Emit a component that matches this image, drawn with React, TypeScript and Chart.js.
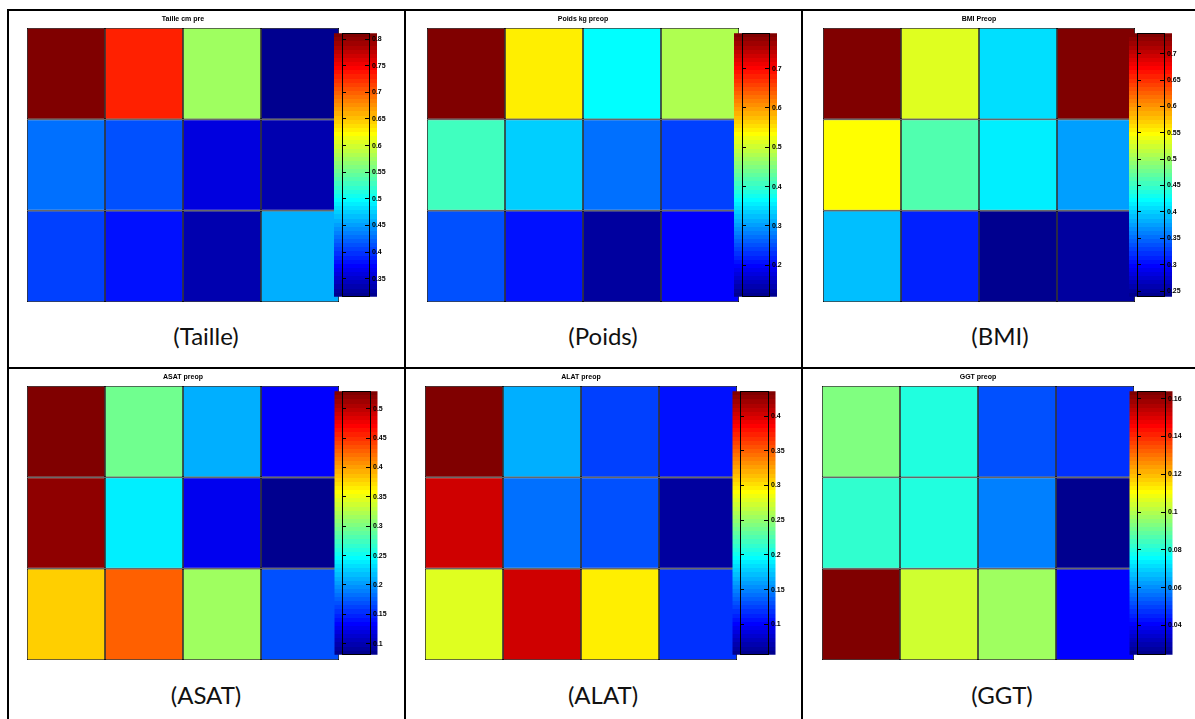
import React, { useEffect, useRef } from 'react';
import { Chart, registerables } from 'chart.js';

Chart.register(...registerables);

// ---------- data ----------
const columnLabels = ['C1', 'C2', 'C3', 'C4'];

const tailleValues = [
  [0.811, 0.732, 0.578, 0.322],
  [0.43, 0.415, 0.356, 0.336],
  [0.407, 0.385, 0.336, 0.46],
];
const tailleRange = [0.316, 0.811];
const tailleTicks = [0.35, 0.4, 0.45, 0.5, 0.55, 0.6, 0.65, 0.7, 0.75, 0.8];

const poidsValues = [
  [0.79, 0.544, 0.371, 0.486],
  [0.405, 0.334, 0.274, 0.244],
  [0.254, 0.207, 0.133, 0.2],
];
const poidsRange = [0.12, 0.79];
const poidsTicks = [0.2, 0.3, 0.4, 0.5, 0.6, 0.7];

const bmiValues = [
  [0.739, 0.529, 0.409, 0.739],
  [0.544, 0.464, 0.414, 0.379],
  [0.389, 0.316, 0.241, 0.254],
];
const bmiRange = [0.239, 0.739];
const bmiTicks = [0.25, 0.3, 0.35, 0.4, 0.45, 0.5, 0.55, 0.6, 0.65, 0.7];

const asatValues = [
  [0.53, 0.292, 0.211, 0.135],
  [0.516, 0.238, 0.126, 0.088],
  [0.382, 0.43, 0.315, 0.166],
];
const asatRange = [0.081, 0.53];
const asatTicks = [0.1, 0.15, 0.2, 0.25, 0.3, 0.35, 0.4, 0.45, 0.5];

const alatValues = [
  [0.436, 0.168, 0.126, 0.105],
  [0.406, 0.14, 0.128, 0.064],
  [0.28, 0.402, 0.297, 0.117],
];
const alatRange = [0.056, 0.436];
const alatTicks = [0.1, 0.15, 0.2, 0.25, 0.3, 0.35, 0.4];

const ggtValues = [
  [0.094, 0.081, 0.051, 0.048],
  [0.082, 0.081, 0.058, 0.026],
  [0.164, 0.105, 0.097, 0.041],
];
const ggtRange = [0.0244, 0.164];
const ggtTicks = [0.04, 0.06, 0.08, 0.1, 0.12, 0.14, 0.16];

const panelTitles = ['Taille cm pre', 'Poids kg preop', 'BMI Preop', 'ASAT preop', 'ALAT preop', 'GGT preop'];
const panelCaptions = ['(Taille)', '(Poids)', '(BMI)', '(ASAT)', '(ALAT)', '(GGT)'];

// ---------- layout (page pixels) ----------
const HEAT_W = 312;
const HEAT_H = 274;
const TITLE_H = 15;
const CB_BAR_W = 43;
const CB_AXIS_W = 30;
const CB_PAD_L = 12;

const layouts = [
  { heatLeft: 27, top: 28, boxLeft: 342, boxW: 27, capX: 206, capY: 336 },
  { heatLeft: 427, top: 28, boxLeft: 742, boxW: 27, capX: 603, capY: 336 },
  { heatLeft: 823, top: 28, boxLeft: 1137, boxW: 27, capX: 1000, capY: 336 },
  { heatLeft: 27, top: 386, boxLeft: 342, boxW: 28, capX: 206, capY: 695 },
  { heatLeft: 425, top: 386, boxLeft: 740, boxW: 28, capX: 603, capY: 695 },
  { heatLeft: 822, top: 386, boxLeft: 1137, boxW: 28, capX: 1002, capY: 695 },
];

// ---------- MATLAB jet(64) colormap ----------
function jetComponent(k: number) {
  if (k < 1 || k > 47) return 0;
  if (k <= 16) return k / 16;
  if (k <= 31) return 1;
  return (48 - k) / 16;
}
function jetIndexColor(i: number) {
  const r = i >= 25 ? jetComponent(i - 24) : 0;
  const g = i >= 9 && i <= 55 ? jetComponent(i - 8) : 0;
  const b = i <= 39 ? jetComponent(i + 8) : 0;
  return `rgb(${Math.round(r * 255)},${Math.round(g * 255)},${Math.round(b * 255)})`;
}
const JET = Array.from({ length: 64 }, (_, i) => jetIndexColor(i + 1));
function colorFor(v: number, min: number, max: number) {
  let idx = Math.floor(((v - min) / (max - min)) * 64);
  if (idx < 0) idx = 0;
  if (idx > 63) idx = 63;
  return JET[idx];
}

const LABEL_FONT = { family: '"Liberation Sans", Arial, sans-serif', size: 7, weight: 'bold' as const };

type PanelProps = {
  title: string;
  caption: string;
  values: number[][];
  range: number[];
  ticks: number[];
  lay: (typeof layouts)[number];
};

function HeatPanel({ title, caption, values, range, ticks, lay }: PanelProps) {
  const heatRef = useRef<HTMLCanvasElement>(null);
  const barRef = useRef<HTMLCanvasElement>(null);

  useEffect(() => {
    const [min, max] = range;
    const rowsBottomUp = values.slice().reverse();
    const heat = new Chart(heatRef.current!, {
      type: 'bar',
      data: {
        labels: columnLabels,
        datasets: rowsBottomUp.map((row, k) => ({
          label: 'row ' + (values.length - k),
          data: row.map(() => 1),
          backgroundColor: row.map((v) => colorFor(v, min, max)),
          borderColor: '#000',
          borderWidth: 0.8,
          borderSkipped: false,
          inflateAmount: 0,
          categoryPercentage: 1,
          barPercentage: 1,
        })),
      },
      options: {
        animation: false,
        responsive: false,
        layout: { padding: { left: 1, right: 1, top: 0, bottom: 1 } },
        plugins: {
          legend: { display: false },
          tooltip: { enabled: false },
          title: {
            display: true,
            text: title,
            color: '#000',
            font: { ...LABEL_FONT, lineHeight: 10 / 7 },
            padding: { top: 1, bottom: 4 },
          },
        },
        scales: {
          x: { stacked: true, display: false },
          y: { stacked: true, display: false, min: 0, max: values.length },
        },
      },
    });

    const setTicks = (scale: any) => {
      scale.ticks = ticks.map((v) => ({ value: v }));
    };
    const bar = new Chart(barRef.current!, {
      type: 'bar',
      data: {
        labels: ['cb'],
        datasets: [
          {
            label: 'colorbar',
            data: [[min, max]] as any,
            barThickness: CB_BAR_W,
            clip: false as any,
            borderWidth: 0,
            inflateAmount: 0,
            backgroundColor: (ctx: any) => {
              const chart = ctx.chart;
              const ys = chart.scales.y;
              if (!chart.chartArea || !ys) return JET[32];
              const yb = ys.getPixelForValue(min);
              const yt = ys.getPixelForValue(max);
              const g = chart.ctx.createLinearGradient(0, yb, 0, yt);
              for (let i = 0; i < 64; i++) {
                g.addColorStop(i / 64, JET[i]);
                g.addColorStop((i + 1) / 64, JET[i]);
              }
              return g;
            },
          },
        ],
      },
      options: {
        animation: false,
        responsive: false,
        layout: { padding: { left: CB_PAD_L, right: 0, top: 6, bottom: 6 } },
        plugins: { legend: { display: false }, tooltip: { enabled: false }, title: { display: false } },
        scales: {
          x: {
            type: 'category',
            position: 'bottom',
            ticks: { display: false, z: 2 },
            grid: { display: false, drawTicks: false, z: 2 },
            border: { display: true, color: '#000', width: 1, z: 2 },
          },
          xTop: {
            type: 'category',
            position: 'top',
            ticks: { display: false, z: 2 },
            grid: { display: false, drawTicks: false, z: 2 },
            border: { display: true, color: '#000', width: 1, z: 2 },
          },
          y: {
            type: 'linear',
            position: 'right',
            min,
            max,
            afterBuildTicks: setTicks,
            afterFit: (s: any) => {
              s.width = CB_AXIS_W;
            },
            ticks: {
              autoSkip: false,
              padding: 7,
              color: '#000',
              font: LABEL_FONT,
              crossAlign: 'near',
              z: 2,
              callback: (v: any) => String(+Number(v).toFixed(4)),
            },
            grid: { drawOnChartArea: false, tickLength: -4, color: '#000', lineWidth: 1, z: 2 },
            border: { display: true, color: '#000', width: 1, z: 2 },
          },
          yLeft: {
            type: 'linear',
            position: 'left',
            min,
            max,
            afterBuildTicks: setTicks,
            afterFit: (s: any) => {
              s.width = 0;
            },
            ticks: { display: false, z: 2 },
            grid: { drawOnChartArea: false, tickLength: -4, color: '#000', lineWidth: 1, z: 2 },
            border: { display: true, color: '#000', width: 1, z: 2 },
          },
        },
      },
    });
    return () => {
      heat.destroy();
      bar.destroy();
    };
  }, []);

  const heatCanvasW = HEAT_W + 2;
  const heatCanvasH = TITLE_H + HEAT_H + 1;
  const barCanvasW = CB_PAD_L + lay.boxW + CB_AXIS_W;
  const barCanvasH = HEAT_H + 12;

  return (
    <>
      <canvas
        ref={heatRef}
        width={heatCanvasW}
        height={heatCanvasH}
        style={{ position: 'absolute', left: lay.heatLeft - 1, top: lay.top - TITLE_H, width: heatCanvasW, height: heatCanvasH }}
      />
      <canvas
        ref={barRef}
        width={barCanvasW}
        height={barCanvasH}
        style={{ position: 'absolute', left: lay.boxLeft - CB_PAD_L, top: lay.top - 6, width: barCanvasW, height: barCanvasH }}
      />
      <div
        style={{
          position: 'absolute',
          left: lay.capX - 100,
          top: lay.capY - 15,
          width: 200,
          height: 30,
          lineHeight: '30px',
          textAlign: 'center',
          fontFamily: 'Lato, "Open Sans", sans-serif',
          fontSize: 24,
          color: '#111',
        }}
      >
        {caption}
      </div>
    </>
  );
}

const line = (left: number, top: number, width: number, height: number) => (
  <div style={{ position: 'absolute', left, top, width, height, background: '#000' }} />
);

export default function App() {
  const allValues = [tailleValues, poidsValues, bmiValues, asatValues, alatValues, ggtValues];
  const allRanges = [tailleRange, poidsRange, bmiRange, asatRange, alatRange, ggtRange];
  const allTicks = [tailleTicks, poidsTicks, bmiTicks, asatTicks, alatTicks, ggtTicks];
  return (
    <div style={{ position: 'absolute', left: 0, top: 0, width: 1195, height: 719, overflow: 'hidden', background: '#fff' }}>
      {line(7, 9, 1188, 2)}
      {line(7, 367, 1188, 2)}
      {line(7, 9, 2, 710)}
      {line(404, 9, 2, 710)}
      {line(801, 9, 2, 710)}
      {layouts.map((lay, i) => (
        <HeatPanel
          key={i}
          title={panelTitles[i]}
          caption={panelCaptions[i]}
          values={allValues[i]}
          range={allRanges[i]}
          ticks={allTicks[i]}
          lay={lay}
        />
      ))}
    </div>
  );
}
